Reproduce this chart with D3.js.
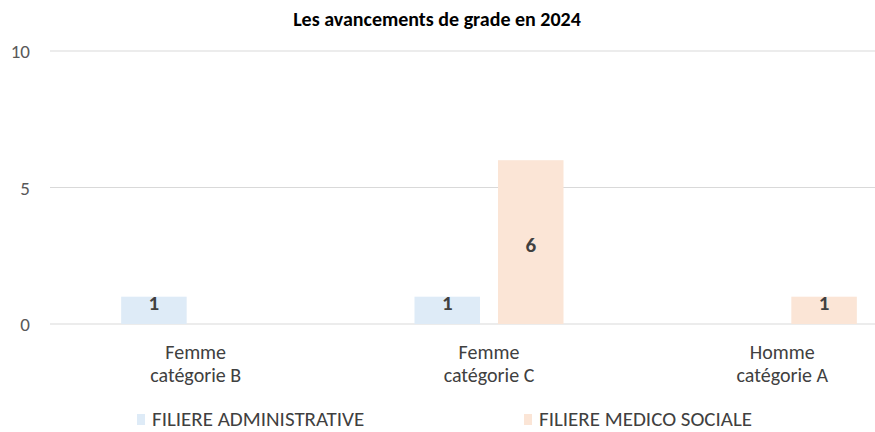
<!DOCTYPE html>
<html>
<head>
<meta charset="utf-8">
<script src="https://cdn.jsdelivr.net/npm/d3@7"></script>
<style>
  body { margin: 0; background: #fff; }
  text { font-family: Carlito, Lato, "Liberation Sans", sans-serif; }
</style>
</head>
<body>
<div class="root"></div>
<script>
const categories = [["Femme", "catégorie B"], ["Femme", "catégorie C"], ["Homme", "catégorie A"]];
const seriesNames = ["FILIERE ADMINISTRATIVE", "FILIERE MEDICO SOCIALE"];
const adminValues = [1, 1, 0];
const medicoValues = [0, 6, 1];
const yTicks = [0, 5, 10];
const colors = ["#deebf7", "#fbe5d6"];

const w = 875;
const h = 432;
const svg = d3.select(".root")
              .append("svg")
              .attr("width", w)
              .attr("height", h);

const catKeys = categories.map(c => c.join(" "));
const x0 = d3.scaleBand().domain(catKeys).range([49, 929]).padding(0);
const groupW = 149;
const x1 = d3.scaleBand().domain(seriesNames)
             .range([0, groupW]).paddingInner(0.2156).paddingOuter(0);
const yScale = d3.scaleLinear().domain([0, 10]).range([324, 51]);

// gridlines
svg.selectAll("line.grid")
   .data(yTicks)
   .enter()
   .append("line")
   .attr("x1", 50).attr("x2", w)
   .attr("y1", d => yScale(d)).attr("y2", d => yScale(d))
   .attr("stroke", "#d9d9d9").attr("stroke-width", 1);

// y labels
svg.selectAll("text.ylab")
   .data(yTicks)
   .enter()
   .append("text")
   .attr("x", 30)
   .attr("y", d => yScale(d) + 7)
   .attr("text-anchor", "end")
   .style("font-size", "19px")
   .style("fill", "#595959")
   .text(d => d);

// bars
const rows = [];
catKeys.forEach((k, i) => {
  rows.push({ cat: k, s: seriesNames[0], v: adminValues[i], c: colors[0] });
  rows.push({ cat: k, s: seriesNames[1], v: medicoValues[i], c: colors[1] });
});
const offset = (x0.bandwidth() - groupW) / 2;
const bars = rows.filter(d => d.v > 0);

svg.selectAll("rect.bar")
   .data(bars)
   .enter()
   .append("rect")
   .attr("x", d => x0(d.cat) + offset + x1(d.s))
   .attr("y", d => yScale(d.v))
   .attr("width", x1.bandwidth())
   .attr("height", d => yScale(0) - yScale(d.v))
   .attr("fill", d => d.c);

svg.selectAll("text.val")
   .data(bars)
   .enter()
   .append("text")
   .attr("x", d => x0(d.cat) + offset + x1(d.s) + x1.bandwidth() / 2)
   .attr("y", d => {
     const hgt = yScale(0) - yScale(d.v);
     return hgt < 40 ? yScale(d.v) + 13.5 : (yScale(d.v) + yScale(0)) / 2 + 10;
   })
   .attr("text-anchor", "middle")
   .style("font-size", "21px")
   .style("font-weight", "bold")
   .style("fill", "#404040")
   .text(d => d.v);

// category labels
categories.forEach((c, i) => {
  const cx = x0(catKeys[i]) + x0.bandwidth() / 2;
  c.forEach((line, j) => {
    svg.append("text")
       .attr("x", cx)
       .attr("y", 358.5 + j * 23.5)
       .attr("text-anchor", "middle")
       .style("font-size", "20px")
       .style("fill", "#404040")
       .text(line);
  });
});

// title
svg.append("text")
   .attr("x", 437)
   .attr("y", 25.5)
   .attr("text-anchor", "middle")
   .style("font-size", "20px")
   .style("font-weight", "bold")
   .style("fill", "#000")
   .text("Les avancements de grade en 2024");

// legend
const legendX = [137, 524];
seriesNames.forEach((s, i) => {
  svg.append("rect")
     .attr("x", legendX[i]).attr("y", 414)
     .attr("width", 8).attr("height", 11)
     .attr("fill", colors[i]);
  svg.append("text")
     .attr("x", legendX[i] + 15)
     .attr("y", 426)
     .style("font-size", "21px")
     .style("fill", "#404040")
     .text(s);
});
</script>
</body>
</html>
